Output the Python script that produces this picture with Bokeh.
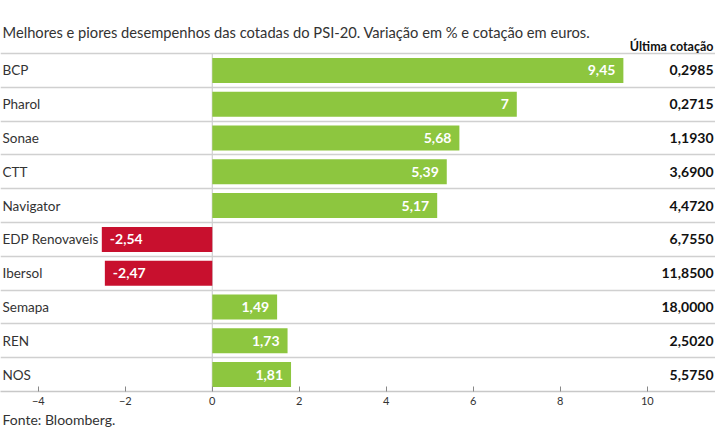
from bokeh.plotting import figure
from bokeh.models import ColumnDataSource, Range1d, LinearAxis, FixedTicker, Title
from bokeh.core.properties import value
from bokeh.embed import file_html
from bokeh.resources import INLINE

# ---- data ----
companies = ["BCP", "Pharol", "Sonae", "CTT", "Navigator",
             "EDP Renovaveis", "Ibersol", "Semapa", "REN", "NOS"]
changes = [9.45, 7.0, 5.68, 5.39, 5.17, -2.54, -2.47, 1.49, 1.73, 1.81]
last_prices = ["0,2985", "0,2715", "1,1930", "3,6900", "4,4720",
               "6,7550", "11,8500", "18,0000", "2,5020", "5,5750"]
x_ticks = [-4, -2, 0, 2, 4, 6, 8, 10]
title_text = "Melhores e piores desempenhos das cotadas do PSI-20. Variação em % e cotação em euros."
header_text = "Última cotação"
source_text = "Fonte: Bloomberg."

# ---- layout constants (pixels in the 715x445 window) ----
W, H = 715, 445
ZERO_PX, UNIT_PX = 211.8, 43.5
ROW0_PX, ROW_PX = 53.0, 33.8
NROWS = len(companies)
AXIS_PX = ROW0_PX + ROW_PX * NROWS

GREEN = "#8dc63f"
RED = "#c8102e"
GRID = "#d0d0d0"
TEXT = "#333333"
FONT = "Lato"


def xv(px):
    return (px - ZERO_PX) / UNIT_PX


def yv(py):
    return (py - ROW0_PX) / ROW_PX


p = figure(width=W, height=H, output_backend="svg", toolbar_location=None,
           x_range=Range1d(xv(0), xv(W)),
           y_range=Range1d(NROWS, yv(0)),
           x_axis_type=None, y_axis_type=None,
           min_border_left=0, min_border_right=0, min_border_top=0,
           min_border_bottom=int(round(H - AXIS_PX)))
p.outline_line_color = None
p.xgrid.visible = False
p.ygrid.visible = False
p.background_fill_color = "white"
p.border_fill_color = "white"

centers = [i + 0.5 for i in range(NROWS)]
labels = [f"{v:g}".replace(".", ",") for v in changes]
colors = [GREEN if v >= 0 else RED for v in changes]

src = ColumnDataSource(dict(y=centers, v=changes, c=colors, name=companies,
                            lab=labels, price=last_prices))
pos = [i for i, v in enumerate(changes) if v >= 0]
neg = [i for i, v in enumerate(changes) if v < 0]
src_pos = ColumnDataSource(dict(y=[centers[i] for i in pos], v=[changes[i] for i in pos],
                                lab=[labels[i] for i in pos]))
src_neg = ColumnDataSource(dict(y=[centers[i] for i in neg], v=[changes[i] for i in neg],
                                lab=[labels[i] for i in neg]))

# row separators
p.hspan(y=list(range(NROWS)), line_color=GRID, line_width=1.5)
# zero line
p.segment(x0=[0], y0=[0], x1=[0], y1=[NROWS], line_color=GRID, line_width=1.2)

# bars
p.hbar(y="y", left=0, right="v", height=0.74, fill_color="c", line_color=None, source=src)

# value labels inside bars
p.text(x="v", y="y", text="lab", source=src_pos, x_offset=-8,
       text_align="right", text_baseline="middle", text_color="white",
       text_font=value(FONT), text_font_size="14px", text_font_style="bold")
p.text(x="v", y="y", text="lab", source=src_neg, x_offset=8,
       text_align="left", text_baseline="middle", text_color="white",
       text_font=value(FONT), text_font_size="14px", text_font_style="bold")

# company names
p.text(x=xv(2), y="y", text="name", source=src,
       text_align="left", text_baseline="middle", text_color=TEXT,
       text_font=value(FONT), text_font_size="13.5px")

# last price column
p.text(x=xv(713), y="y", text="price", source=src,
       text_align="right", text_baseline="middle", text_color="#111111",
       text_font=value(FONT), text_font_size="14px", text_font_style="bold")

# title and header
p.text(x=[xv(2)], y=[yv(31.5)], text=[title_text],
       text_align="left", text_baseline="alphabetic", text_color=TEXT,
       text_font=value(FONT), text_font_size="14.7px")
p.text(x=[xv(713)], y=[yv(45.5)], text=[header_text],
       text_align="right", text_baseline="alphabetic", text_color="#111111",
       text_font=value(FONT), text_font_size="12.5px", text_font_style="bold")

# x axis
ax = LinearAxis(ticker=FixedTicker(ticks=x_ticks))
ax.axis_line_color = "#c8c8c8"
ax.axis_line_width = 1.5
ax.major_tick_in = 5
ax.major_tick_out = 0
ax.major_tick_line_color = "#888888"
ax.minor_tick_line_color = None
ax.major_label_text_font = FONT
ax.major_label_text_font_size = "11px"
ax.major_label_text_color = TEXT
ax.major_label_standoff = 5
p.add_layout(ax, "below")

# source note
p.add_layout(Title(text=source_text, align="left", offset=2, standoff=2,
                   text_font=FONT, text_font_size="14px", text_font_style="normal",
                   text_color=TEXT), "below")

open("out.html", "w").write(file_html(p, INLINE))
